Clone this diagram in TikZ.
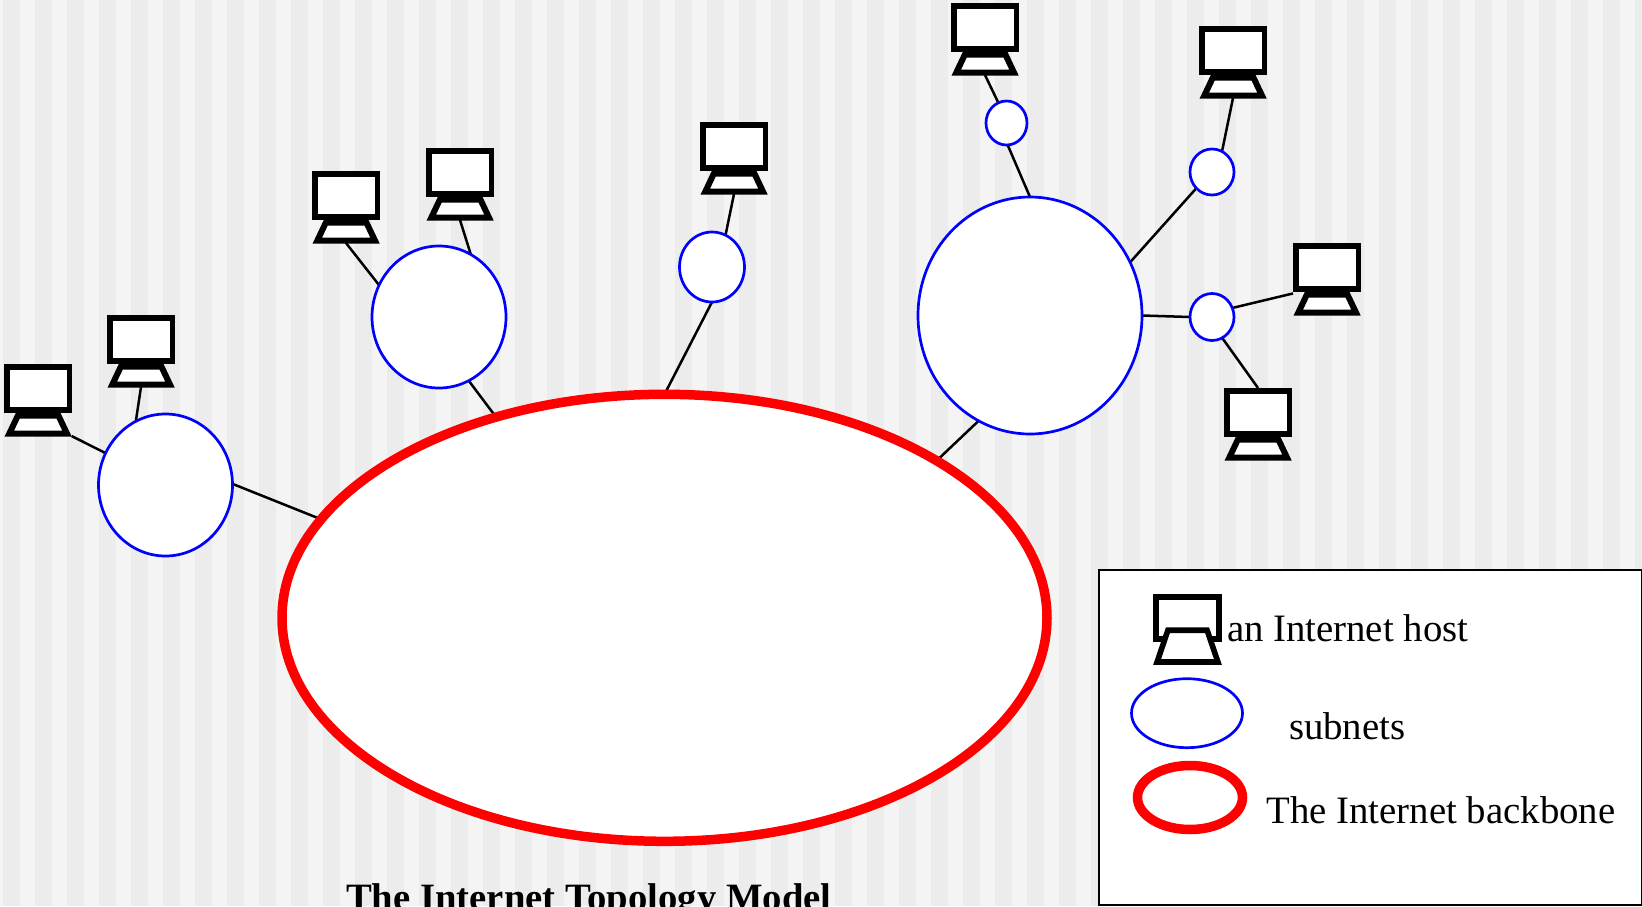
\documentclass[tikz,border=0pt]{standalone}
\usepackage{fontspec}
\setmainfont{Liberation Serif}
\usetikzlibrary{shapes.geometric}
\definecolor{stripedark}{HTML}{ECECEC}
\definecolor{stripelight}{HTML}{F4F4F4}
\pgfdeclarelayer{under}
\pgfsetlayers{under,main}
\tikzset{
  x=1pt,y=-1pt,
  subnet/.style={ellipse,draw=blue,fill=white,line width=2.7pt,inner sep=0pt,outer sep=0pt},
  backbone/.style={ellipse,draw=red,fill=white,line width=9.5pt,inner sep=0pt,outer sep=0pt},
  hostbox/.style={rectangle,minimum width=68pt,minimum height=72pt,inner sep=0pt,outer sep=0pt},
  hostline/.style={draw=black,fill=white,line width=5.6pt,miter limit=10},
  link/.style={draw=black,line width=2.5pt},
  caption/.style={anchor=base west,inner sep=0pt,outer sep=0pt,font=\fontsize{38.8pt}{42pt}\selectfont},
}
\newcommand{\hostnode}[3]{%
  \node[hostbox] (#1) at (#2+34,#3+36) {};
  \begin{scope}[shift={(#2,#3)}]
    \path[hostline] (2.8,2.8) rectangle (65.5,45.9);
    \path[hostline,line width=6pt] (13.8,51.7) -- (54.5,51.7) -- (62.95,69.5) -- (5.35,69.5) -- cycle;
  \end{scope}
}
\begin{document}
\begin{tikzpicture}
\useasboundingbox (0,0) rectangle (1642,906);
\begin{pgfonlayer}{under}
  \fill[stripelight] (0,0) rectangle (1642,906);
  \foreach \i in {0,...,51} {
    \fill[stripedark] (3.3+32*\i,0) rectangle (20+32*\i,906);
  }
\end{pgfonlayer}

\node[backbone,minimum width=765pt,minimum height=447pt] (bb) at (664.5,617.8) {};
\node[subnet,minimum width=134pt,minimum height=142pt] (s1) at (165.5,485) {};
\node[subnet,minimum width=134pt,minimum height=142pt] (s2) at (439,317) {};
\node[subnet,minimum width=65pt,minimum height=70pt] (s3) at (712,267) {};
\node[subnet,minimum width=224pt,minimum height=237pt] (s4) at (1030,315.5) {};
\node[subnet,minimum width=41pt,minimum height=44pt] (s5) at (1006.5,123) {};
\node[subnet,minimum width=44pt,minimum height=46pt] (s6) at (1212,172) {};
\node[subnet,minimum width=44pt,minimum height=47pt] (s7) at (1212,317) {};

\hostnode{h1}{4}{364}
\hostnode{h2}{107}{315}
\hostnode{h3}{312}{171}
\hostnode{h4}{426}{148}
\hostnode{h5}{700}{122}
\hostnode{h6}{951}{3}
\hostnode{h7}{1199}{26}
\hostnode{h8}{1293}{243}
\hostnode{h9}{1224}{388}

\begin{pgfonlayer}{under}
  \draw[link] (h1.-47) -- (s1.152);
  \draw[link] (h2.south) -- (s1.115);
  \draw[link] (s1.1) -- (bb.164.4);
  \draw[link] (h3.south) -- (s2.152.6);
  \draw[link] (h4.south) -- (s2.63.8);
  \draw[link] (s2.-65) -- (bb.130.4);
  \draw[link] (h5.south) -- (s3.67);
  \draw[link] (s3.south) -- (bb.north);
  \draw[link] (s4.244.8) -- (bb.30.5);
  \draw[link] (h6.south) -- (s5.112);
  \draw[link] (s5.-87) -- (s4.north);
  \draw[link] (h7.south) -- (s6.64.5);
  \draw[link] (s6.226.7) -- (s4.28);
  \draw[link] (s4.east) -- (s7.west);
  \draw[link] (s7.24) -- (h8.203);
  \draw[link] (s7.-64.5) -- (h9.north);
\end{pgfonlayer}

% legend
\node[rectangle,draw=black,fill=white,line width=2.5pt,inner sep=0pt,outer sep=0pt,anchor=north west,minimum width=543pt,minimum height=335pt] (legend) at (1099,570) {};
\path[hostline] (1155.8,596.8) rectangle (1219.2,638.7);
\path[hostline] (1167.9,630.2) -- (1207.1,630.2) -- (1217.9,662) -- (1157.1,662) -- cycle;
\node[subnet,minimum width=111pt,minimum height=69pt] (ls) at (1187,713.2) {};
\node[backbone,minimum width=105pt,minimum height=64pt] (lb) at (1190,797.5) {};

\node[caption] (t1) at (1227,641) {an Internet host};
\node[caption] (t2) at (1289,739) {subnets};
\node[caption] (t3) at (1266.5,823) {The Internet backbone};
\node[caption,font=\fontsize{38.7pt}{42pt}\selectfont\bfseries] (title) at (346,910) {The Internet Topology Model};
\end{tikzpicture}
\end{document}
